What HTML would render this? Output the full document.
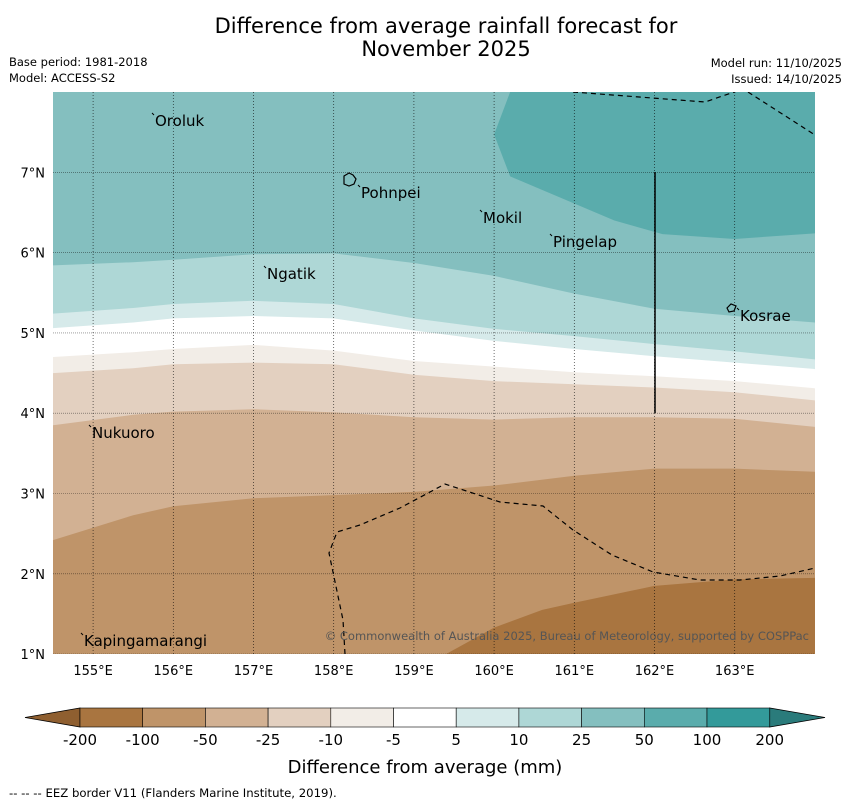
<!DOCTYPE html>
<html><head><meta charset="utf-8"><style>
body{margin:0;background:#fff;font-family:"Liberation Sans","DejaVu Sans",sans-serif;}
svg text{font-family:"DejaVu Sans","Liberation Sans",sans-serif;}
</style></head><body>
<svg id="chart" width="850" height="804" viewBox="0 0 850 804" xmlns="http://www.w3.org/2000/svg">
<text x="446" y="33" font-size="21" text-anchor="middle">Difference from average rainfall forecast for</text>
<text x="446" y="56" font-size="21" text-anchor="middle">November 2025</text>
<text x="9" y="66" font-size="11.5">Base period: 1981-2018</text>
<text x="9" y="82" font-size="11.5">Model: ACCESS-S2</text>
<text x="842" y="67" font-size="11.5" text-anchor="end">Model run: 11/10/2025</text>
<text x="842" y="83" font-size="11.5" text-anchor="end">Issued: 14/10/2025</text>
<defs><clipPath id="mapclip"><rect x="53" y="92" width="762" height="562"/></clipPath></defs>
<g id="map" clip-path="url(#mapclip)"></g>
<g id="cbar"></g>
<text x="425" y="773" font-size="18" text-anchor="middle">Difference from average (mm)</text>
<text x="9" y="797" font-size="11.7">--  --  -- EEZ border V11 (Flanders Marine Institute, 2019).</text>
</svg>
<script>
const lons=[154.5,155.5,156,157,158,159,160,161,162,163,164];
// boundary latitudes (from north to south) at each lon
const b25_10=[5.84,5.88,5.91,5.98,5.99,5.87,5.71,5.49,5.30,5.21,5.13];
const b10_5=[5.24,5.31,5.36,5.40,5.36,5.18,5.05,4.96,4.86,4.77,4.67];
const b5_w=[5.06,5.13,5.18,5.21,5.18,5.03,4.90,4.80,4.71,4.63,4.55];
const bw_m10=[4.70,4.76,4.80,4.85,4.78,4.65,4.58,4.51,4.46,4.40,4.31];
const bm10_m25=[4.50,4.56,4.61,4.63,4.61,4.48,4.40,4.36,4.32,4.26,4.16];
const bm25_m50=[3.85,3.98,4.02,4.05,4.01,3.95,3.92,3.95,3.95,3.93,3.83];
const bm50_m100=[2.42,2.73,2.84,2.94,2.98,3.02,3.10,3.22,3.31,3.31,3.27];
const m200Lons=[159.4,160,160.6,161,162,163,164];
const m200Lats=[1.0,1.33,1.55,1.64,1.85,1.93,1.95];
const p100Lons=[160.2,160,160.2,161.5,162.1,163,164];
const p100Lats=[8.0,7.47,6.95,6.4,6.23,6.17,6.24];
const ticksLon=[155,156,157,158,159,160,161,162,163];
const ticksLat=[1,2,3,4,5,6,7];
const cbColors=['#a97540','#bf9469','#d2b193','#e3d0c0','#f2ede7','#ffffff','#d6eaea','#aed7d6','#84bfbf','#5aacac','#339a9a'];
const cbLabels=['-200','-100','-50','-25','-10','-5','5','10','25','50','100','200'];
const x=lon=>53+(lon-154.5)*80.2;
const y=lat=>92+(8-lat)*80.3;
const NS='http://www.w3.org/2000/svg';
const map=document.getElementById('map');
function mk(tag,attrs,parent){const e=document.createElementNS(NS,tag);for(const k in attrs)e.setAttribute(k,attrs[k]);parent.appendChild(e);return e;}
function line(lats){return lons.map((l,i)=>x(l).toFixed(1)+','+y(lats[i]).toFixed(1));}
function band(top,color,name){
 let pts;
 if(top===null) pts=[x(154.5)+','+y(8.2),x(164.2)+','+y(8.2)];
 else {pts=line(top);}
 pts=pts.concat([x(164.2)+','+y(0.8),x(154.3)+','+y(0.8)]);
 const p=mk('polygon',{points:pts.join(' '),fill:color},map);
 
 
}
band(null,'#84bfbf','band-25-50');
const hp=mk('polygon',{points:p100Lons.map((l,i)=>x(l)+','+y(p100Lats[i])).join(' ')+' '+x(164.3)+','+y(8.2)+' '+x(160.2)+','+y(8.2),fill:'#5aacac'},map);


band(b25_10,'#aed7d6','band-10-25');
band(b10_5,'#d6eaea','band-5-10');
band(b5_w,'#ffffff','band-white');
band(bw_m10,'#f2ede7','band-m10');
band(bm10_m25,'#e3d0c0','band-m25');
band(bm25_m50,'#d2b193','band-m50');
band(bm50_m100,'#bf9469','band-m100');
const dp=mk('polygon',{points:m200Lons.map((l,i)=>x(l)+','+y(m200Lats[i])).join(' ')+' '+x(164.3)+','+y(0.8)+' '+x(159.4)+','+y(0.8),fill:'#a97540'},map);


ticksLon.forEach(l=>{const g=mk('line',{x1:x(l),x2:x(l),y1:92,y2:654,stroke:'#000','stroke-width':0.7,'stroke-dasharray':'1,2',opacity:0.8},map);

});
ticksLat.forEach(l=>{const g=mk('line',{x1:53,x2:815,y1:y(l),y2:y(l),stroke:'#000','stroke-width':0.6,'stroke-dasharray':'1,1',opacity:0.6},map);

});
[['573,92 705,102 740,90'],['748,92 815,135'],['345,654 343,620 329,553 337,532 360,525 400,508 445,484 500,502 543,506 573,530 612,555 653,572 700,580 740,580 780,576 815,568']].forEach(p=>{
 const e=mk('polyline',{points:p[0],fill:'none',stroke:'#000','stroke-width':1.2,'stroke-dasharray':'5,4'},map);
 
 });
const vl=mk('line',{x1:655,x2:655,y1:172,y2:413,stroke:'#000','stroke-width':1.5},map);


const isl=[['Oroluk',155,121],['Pohnpei',361,193],['Mokil',483,218],['Pingelap',553,242],['Ngatik',267,274],['Kosrae',740,316],['Nukuoro',92,433],['Kapingamarangi',84,641]];
isl.forEach(d=>{const t=mk('text',{x:d[1],y:d[2]+5,'font-size':15},map);t.textContent=d[0];


const m=mk('line',{x1:d[1]-3,y1:d[2]-8,x2:d[1]-1,y2:d[2]-6,stroke:'#000','stroke-width':1},map);

});
const po=mk('path',{d:'M344,176 l5,-3 4,2 3,4 -2,5 -5,2 -5,-2 z',fill:'none',stroke:'#000','stroke-width':1.2},map);


const ko=mk('path',{d:'M727,308 l4,-4 5,2 -2,5 -5,1 z',fill:'none',stroke:'#000','stroke-width':1.2},map);


const cp=mk('text',{x:809,y:640,'font-size':11.5,'text-anchor':'end',fill:'#555'},map);cp.textContent='© Commonwealth of Australia 2025, Bureau of Meteorology, supported by COSPPac';


const svg=document.getElementById('chart');
ticksLon.forEach(l=>{const t=mk('text',{x:x(l),y:675,'font-size':13,'text-anchor':'middle'},svg);t.textContent=l+'°E';

});
ticksLat.forEach(l=>{const t=mk('text',{x:45,y:y(l)+5,'font-size':13,'text-anchor':'end'},svg);t.textContent=l+'°N';

});
const cb=document.getElementById('cbar');
const cx0=80,cw=62.7,cy=708,ch=19;
const lt=mk('polygon',{points:`25,717.5 ${cx0},${cy} ${cx0},${cy+ch}`,fill:'#8f5f30',stroke:'#000','stroke-width':0.8},cb);


const rt=mk('polygon',{points:`825,717.5 ${cx0+cw*11},${cy} ${cx0+cw*11},${cy+ch}`,fill:'#2a7b7b',stroke:'#000','stroke-width':0.8},cb);


cbColors.forEach((c,i)=>{const r=mk('rect',{x:cx0+i*cw,y:cy,width:cw,height:ch,fill:c,stroke:'#000','stroke-width':0.6},cb);

});
cbLabels.forEach((s,i)=>{const t=mk('text',{x:cx0+i*cw,y:745,'font-size':15,'text-anchor':'middle'},cb);t.textContent=s;

});
</script>
</body></html>
